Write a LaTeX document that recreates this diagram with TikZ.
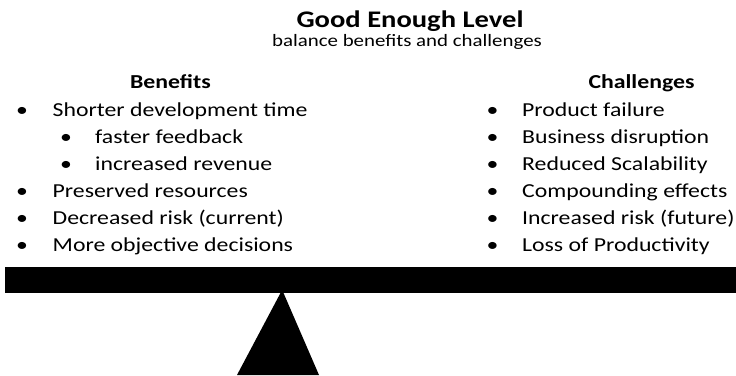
\documentclass[tikz,border=0pt]{standalone}
\usepackage{fontspec}
\setmainfont{Carlito}[FakeStretch=1.2]
\usetikzlibrary{positioning}

\tikzset{
  txt/.style={anchor=base west,inner sep=0pt,font=\fontsize{19.8}{24}\selectfont},
  dot/.style={anchor=base,inner sep=0pt,font=\fontsize{19.8}{24}\selectfont},
  heading/.style={anchor=base,inner sep=0pt,font=\bfseries\fontsize{19.8}{24}\selectfont},
}

\begin{document}
\begin{tikzpicture}[x=1pt,y=1pt]
  \useasboundingbox (0,0) rectangle (736,375);
  % title
  \node[anchor=base,inner sep=0pt,font=\bfseries\fontsize{23.8}{28}\selectfont] (title) at (410,347.7) {Good Enough Level};
  \node[anchor=base,inner sep=0pt,font=\fontsize{17.4}{21}\selectfont] (subtitle) at (407,328) {balance benefits and challenges};
  % columns
  \node[heading] (benefits) at (170.5,286.7) {Benefits};
  \node[heading] (challenges) at (641.5,286.7) {Challenges};
  \foreach \i/\bx/\tx/\t in {0/22/52.5/{Shorter development time},1/66/95/{faster feedback},
      2/66/95/{increased revenue},3/22/52.5/{Preserved resources},
      4/22/52.5/{Decreased risk (current)},5/22/52.5/{More objective decisions}}{
    \node[dot] (bendot\i) at (\bx,258-26.9*\i) {•};
    \node[txt] (ben\i) at (\tx,258-26.9*\i) {\t};
  }
  \foreach \i/\t in {0/{Product failure},1/{Business disruption},2/{Reduced Scalability},
      3/{Compounding effects},4/{Increased risk (future)},5/{Loss of Productivity}}{
    \node[dot] (chadot\i) at (492.5,258-26.9*\i) {•};
    \node[txt] (cha\i) at (522,258-26.9*\i) {\t};
  }
  % seesaw
  \fill (5,82) rectangle (736,108);
  \fill (237,0) -- (280.5,82) -- (283.5,82) -- (319,0) -- cycle;
\end{tikzpicture}
\end{document}
